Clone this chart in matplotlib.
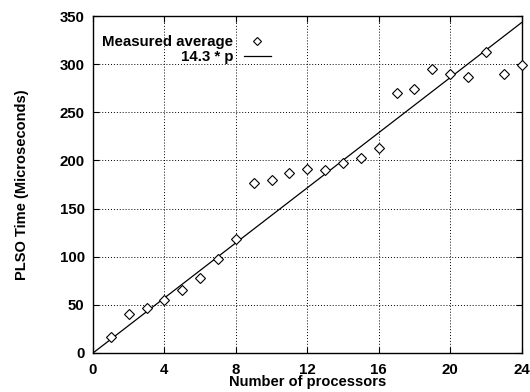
import matplotlib
matplotlib.use("Agg")
import matplotlib.pyplot as plt
import numpy as np

plt.rcParams['font.family'] = ['Liberation Sans', 'DejaVu Sans']
plt.rcParams['font.weight'] = 'bold'

# measured PLSO times per processor count
procs = np.arange(1, 25)
measured = [17, 40, 47, 55, 65, 78, 98, 118, 177, 180, 187, 191,
            190, 197, 203, 213, 270, 274, 295, 290, 287, 313, 290, 299]
slope = 14.3
xticks = [0, 4, 8, 12, 16, 20, 24]
yticks = [0, 50, 100, 150, 200, 250, 300, 350]

fig = plt.figure(figsize=(5.3, 3.92), dpi=100)
ax = fig.add_axes([0.1755, 0.0995, 0.8085, 0.8595])

ax.plot(procs, measured, linestyle='none', marker='D', markersize=4.8,
        markerfacecolor='white', markeredgecolor='black', markeredgewidth=0.8,
        label='Measured average', zorder=3, clip_on=False)
fit_x = np.array([0, 24])
ax.plot(fit_x, slope * fit_x, color='black', linewidth=0.9, label='14.3 * p', zorder=2)

ax.set_xlim(0, 24)
ax.set_ylim(0, 350)
ax.set_xticks(xticks)
ax.set_yticks(yticks)
ax.tick_params(direction='in', length=4, width=0.8, top=True, right=True,
               labelsize=10.8)
ax.tick_params(axis='x', pad=7)
ax.tick_params(axis='y', pad=6)
for lab in ax.get_xticklabels() + ax.get_yticklabels():
    lab.set_fontweight('bold')
ax.grid(True, linestyle=(0, (1, 2)), color='black', linewidth=0.7)
for s in ax.spines.values():
    s.set_linewidth(1.0)

ax.set_xlabel('Number of processors', fontsize=10.5, fontweight='bold', labelpad=-1)
ax.set_ylabel('PLSO Time (Microseconds)', fontsize=10.5, fontweight='bold', labelpad=22)

leg = ax.legend(loc='upper left', bbox_to_anchor=(0.0, 0.97), markerfirst=False,
                frameon=False, fontsize=10.8, handlelength=1.8, handletextpad=0.7,
                labelspacing=0.05, borderaxespad=0.2)
for t in leg.get_texts():
    t.set_fontweight('bold')
leg.legend_handles[0].set_markersize(4)

fig.savefig('out.png', dpi=100)
